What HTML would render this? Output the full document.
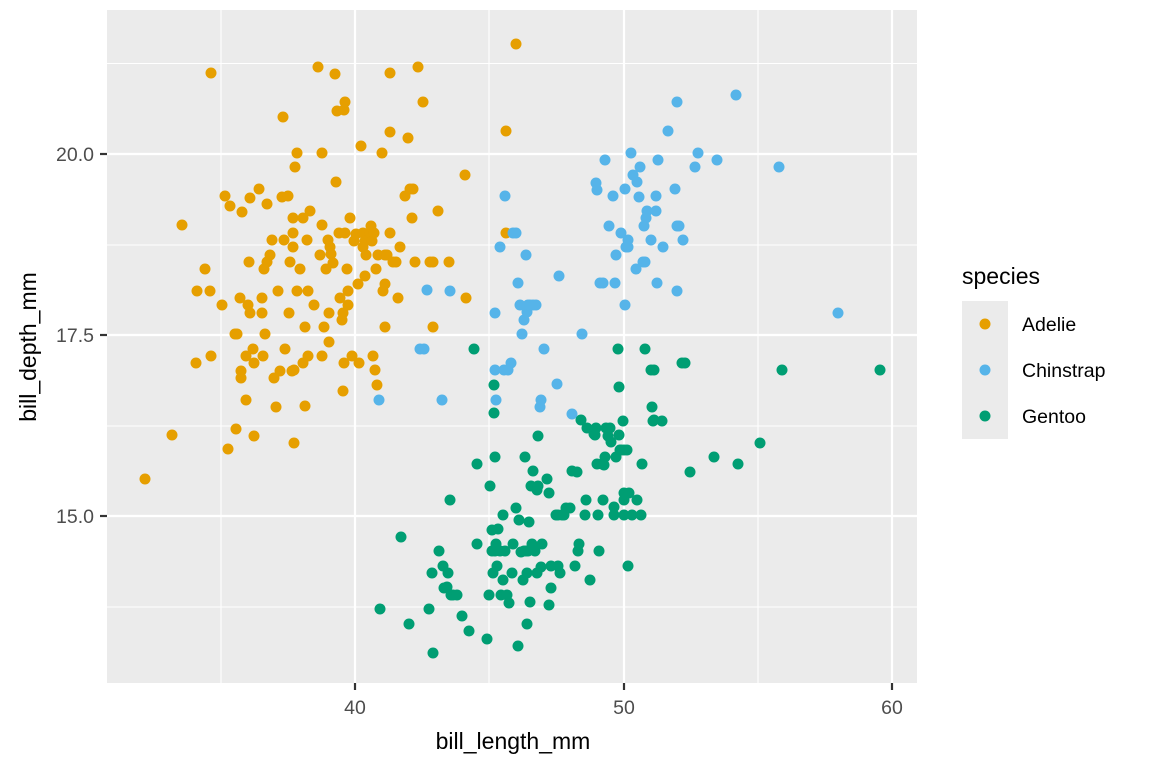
<!DOCTYPE html>
<html><head><meta charset="utf-8"><style>
html,body{margin:0;padding:0;background:#fff}
svg{display:block}
text{font-family:"Liberation Sans",Arial,sans-serif}
</style></head><body>
<svg id="s" width="1152" height="768" viewBox="0 0 1152 768" xmlns="http://www.w3.org/2000/svg">
<rect x="107" y="10" width="810" height="673" fill="#ebebeb"/>
<g stroke="#fff" stroke-width="1.1">
<line x1="221" y1="10" x2="221" y2="683"/><line x1="489" y1="10" x2="489" y2="683"/><line x1="758" y1="10" x2="758" y2="683"/>
<line x1="107" y1="63.5" x2="917" y2="63.5"/><line x1="107" y1="245" x2="917" y2="245"/><line x1="107" y1="426" x2="917" y2="426"/><line x1="107" y1="607" x2="917" y2="607"/>
</g>
<g stroke="#fff" stroke-width="2.2">
<line x1="355" y1="10" x2="355" y2="683"/><line x1="624" y1="10" x2="624" y2="683"/><line x1="892" y1="10" x2="892" y2="683"/>
<line x1="107" y1="154" x2="917" y2="154"/><line x1="107" y1="335" x2="917" y2="335"/><line x1="107" y1="516" x2="917" y2="516"/>
</g>
<g id="pts"></g>
<g stroke="#333" stroke-width="2.2">
<line x1="355" y1="683" x2="355" y2="690"/><line x1="624" y1="683" x2="624" y2="690"/><line x1="892" y1="683" x2="892" y2="690"/>
<line x1="100" y1="154" x2="107" y2="154"/><line x1="100" y1="335" x2="107" y2="335"/><line x1="100" y1="516" x2="107" y2="516"/>
</g>
<g fill="#4d4d4d" font-size="19.5">
<text x="355" y="714" text-anchor="middle">40</text><text x="624" y="714" text-anchor="middle">50</text><text x="892" y="714" text-anchor="middle">60</text>
<text x="94" y="161" text-anchor="end">20.0</text><text x="94" y="342" text-anchor="end">17.5</text><text x="94" y="523" text-anchor="end">15.0</text>
</g>
<text x="513" y="749" text-anchor="middle" font-size="23">bill_length_mm</text>
<text transform="translate(36,347) rotate(-90)" text-anchor="middle" font-size="23">bill_depth_mm</text>
<text x="962" y="284" font-size="23">species</text>
<rect x="962" y="301" width="46" height="138" fill="#ebebeb"/>
<circle cx="985" cy="324" r="5.5" fill="#E69F00"/><circle cx="985" cy="370" r="5.5" fill="#56B4E9"/><circle cx="985" cy="416" r="5.5" fill="#009E73"/>
<g font-size="19.5"><text x="1022" y="331">Adelie</text><text x="1022" y="377">Chinstrap</text><text x="1022" y="423">Gentoo</text></g>
</svg>
<script>
var A=[145,479,172,435,182,225,211,73,197,291,205,269,210,291,196,363,211,356,222,305,225,196,230,206,228,449,235,334,237,334,236,429,240,298,241,378,241,371,242,212,246,400,246,356,248,305,249,262,250,313,250,198,254,436,253,349,254,363,259,189,262,298,262,313,263,356,264,269,265,334,267,262,267,204,270,255,272,240,274,378,276,407,278,291,280,371,282,197,283,117,284,240,285,349,288,196,289,313,290,262,292,371,293,218,293,233,293,247,294,370,294,443,295,167,297,153,297,291,300,269,303,218,303,363,305,406,305,327,307,240,308,291,308,356,310,211,314,305,318,67,320,255,322,356,322,153,322,225,324,327,326,269,328,240,329,313,329,342,330,247,331,254,333,263,335,74,336,182,337,111,339,233,340,298,342,320,344,110,343,391,344,363,345,102,343,313,345,233,347,269,348,305,348,291,350,218,352,356,354,241,356,234,358,284,359,363,361,146,363,233,363,247,365,276,365,241,366,255,370,233,371,226,372,241,373,356,374,233,375,370,376,269,377,385,378,255,382,153,383,291,385,284,385,255,385,327,387,255,390,73,390,132,390,233,393,262,396,262,398,298,400,247,405,196,408,138,410,189,412,218,413,189,415,262,418,67,423,102,430,262,433,327,433,262,438,211,449,262,465,175,466,298,506,233,516,44,506,131];
var C=[379,400,420,349,424,349,442,400,427,290,450,291,495,313,495,370,496,400,500,247,504,370,505,196,508,370,511,363,513,233,516,233,518,283,520,305,522,334,524,320,526,255,527,312,528,305,530,305,533,305,536,305,540,407,541,400,544,349,557,384,559,276,572,414,582,334,596,183,597,190,600,283,603,283,605,160,609,226,613,196,615,283,616,255,621,233,625,189,625,305,626,247,628,247,628,240,631,153,633,175,636,269,637,182,639,197,640,167,643,262,644,226,646,218,645,262,647,211,651,240,656,196,656,211,657,283,658,160,663,247,668,131,675,189,677,226,677,291,677,102,679,226,683,240,695,167,698,153,717,160,736,95,779,167,838,313];
var G=[380,609,401,537,409,624,429,609,433,653,432,573,439,551,443,566,444,588,447,587,448,573,450,500,451,595,453,595,457,595,462,616,469,631,474,349,477,464,477,544,487,639,490,486,489,595,493,573,494,413,494,385,495,457,492,530,492,551,495,551,496,544,497,566,498,529,500,551,501,595,503,515,503,580,505,551,507,595,509,603,512,573,513,544,516,508,518,646,519,520,521,552,523,580,525,457,524,551,526,551,527,573,527,624,528,551,529,522,530,602,531,486,532,544,533,471,535,551,537,490,537,573,538,436,538,486,541,567,542,544,547,479,549,605,549,493,551,566,551,588,556,515,558,566,558,515,560,573,562,515,564,515,566,508,570,508,572,471,575,566,577,472,578,551,579,544,581,420,585,515,586,500,587,428,590,580,594,434,595,435,596,428,597,464,599,551,598,515,602,464,603,500,604,465,605,457,606,428,608,436,610,428,611,442,614,515,614,507,616,457,618,349,619,387,619,435,620,450,621,450,623,421,624,450,624,493,624,500,624,515,627,450,628,566,629,493,632,515,637,500,641,515,642,464,645,349,651,370,652,407,653,421,654,420,654,370,662,421,682,363,685,363,690,472,714,457,738,464,760,443,782,370,880,370];
var g=document.getElementById('pts'),h='';
function add(a,c){for(var i=0;i<a.length;i+=2)h+='<circle cx="'+a[i]+'" cy="'+a[i+1]+'" r="5.5" fill="'+c+'"/>';}
add(A,'#E69F00');add(C,'#56B4E9');add(G,'#009E73');
g.innerHTML=h;
</script>
</body></html>
